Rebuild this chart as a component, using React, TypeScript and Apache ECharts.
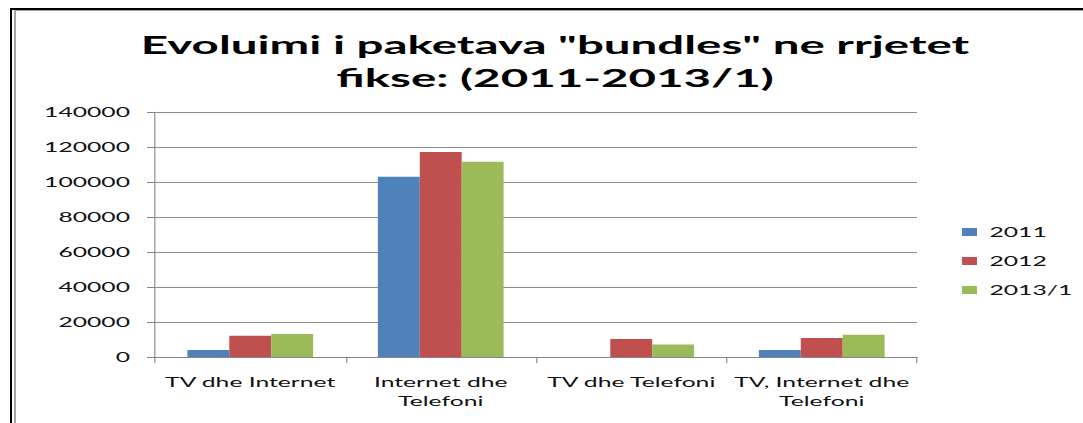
import React, { useEffect, useRef } from "react";
import * as echarts from "echarts";

const titleText = 'Evoluimi i paketava "bundles" ne rrjetet\nfikse: (2011-2013/1)';
const categories = ["TV dhe Internet", "Internet dhe\nTelefoni", "TV dhe Telefoni", "TV, Internet dhe\nTelefoni"];
const seriesNames = ["2011", "2012", "2013/1"];
const values2011 = [4000, 103000, 0, 4000];
const values2012 = [12200, 117100, 10300, 10900];
const values2013 = [13100, 111600, 7200, 12700];
const colors = ["#4F81BD", "#C0504D", "#9BBB59"];

const SX = 1.9;
const W = 1083;
const H = 423;
const IW = W / SX;
const px = (x: number) => x / SX;

export default function App() {
  const ref = useRef<HTMLDivElement>(null);
  useEffect(() => {
    if (!ref.current) return;
    const chart = echarts.init(ref.current, null, { renderer: "svg" });
    const font = "Lato, 'Open Sans', sans-serif";
    chart.setOption({
      animation: false,
      backgroundColor: "#ffffff",
      title: {
        text: titleText,
        left: px(555),
        textAlign: "center",
        top: 28,
        padding: 0,
        textStyle: { fontFamily: font, fontWeight: "bold", fontSize: 25, lineHeight: 33, color: "#000" },
      },
      legend: {
        orient: "vertical",
        left: px(962),
        top: 225,
        padding: 0,
        itemWidth: px(15),
        itemHeight: 8,
        itemGap: 15,
        icon: "rect",
        textStyle: { fontFamily: font, fontSize: 13, lineHeight: 14, color: "#111", padding: [0, 0, 0, px(3)] },
        data: seriesNames,
      },
      grid: { left: px(155), top: 112, width: px(762), height: 245, containLabel: false },
      xAxis: {
        type: "category",
        data: categories,
        axisLine: { lineStyle: { color: "#868686", width: 1 } },
        axisTick: { show: true, length: 6, lineStyle: { color: "#868686", width: 0.6 } },
        axisLabel: { fontFamily: font, fontSize: 13, lineHeight: 19, color: "#111", margin: 16, interval: 0 },
      },
      yAxis: {
        type: "value",
        min: 0,
        max: 140000,
        interval: 20000,
        axisLine: { show: true, lineStyle: { color: "#868686", width: 0.6 } },
        axisTick: { show: true, length: px(8), lineStyle: { color: "#868686", width: 1 } },
        splitLine: { lineStyle: { color: "#8c8c8c", width: 1 } },
        axisLabel: { fontFamily: font, fontSize: 13, color: "#111", margin: px(25), formatter: (v: number) => String(v) },
      },
      series: [
        { name: seriesNames[0], type: "bar", data: values2011, itemStyle: { color: colors[0] }, barGap: "0%", barCategoryGap: "34%" },
        { name: seriesNames[1], type: "bar", data: values2012, itemStyle: { color: colors[1] }, barGap: "0%", barCategoryGap: "34%" },
        { name: seriesNames[2], type: "bar", data: values2013, itemStyle: { color: colors[2] }, barGap: "0%", barCategoryGap: "34%" },
      ],
      graphic: [
        { type: "rect", shape: { x: px(10), y: 8, width: px(W - 10), height: 2 }, style: { fill: "#000" }, silent: true },
        { type: "rect", shape: { x: px(10), y: 8, width: px(2), height: H - 8 }, style: { fill: "#000" }, silent: true },
        { type: "rect", shape: { x: px(14), y: 10, width: px(W - 14), height: 1 }, style: { fill: "#a6a6a6" }, silent: true },
        { type: "rect", shape: { x: px(14), y: 10, width: px(2), height: H - 10 }, style: { fill: "#a6a6a6" }, silent: true },
      ],
    });
    return () => chart.dispose();
  }, []);
  return (
    <div style={{ position: "fixed", left: 0, top: 0, width: W, height: H, overflow: "hidden", background: "#fff" }}>
      <div
        ref={ref}
        style={{ width: IW, height: H, transform: `scale(${SX}, 1)`, transformOrigin: "0 0" }}
      />
    </div>
  );
}
